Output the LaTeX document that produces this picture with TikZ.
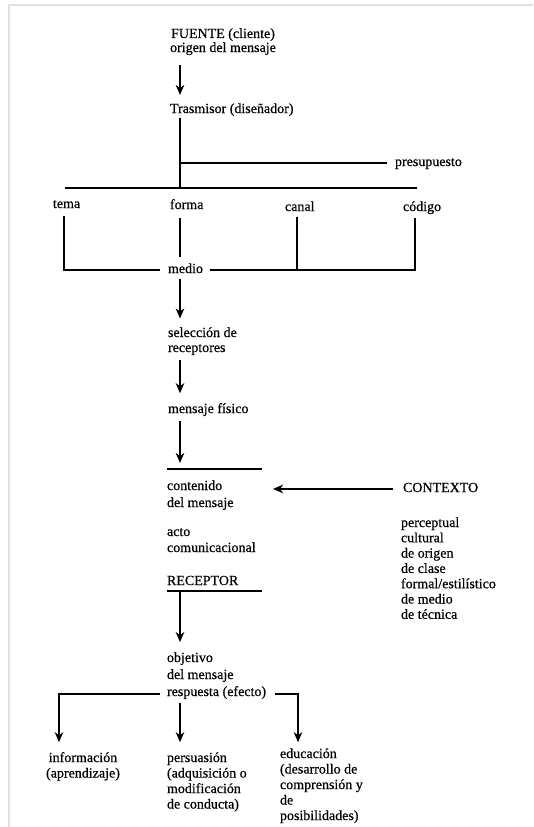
\documentclass[tikz,border=0pt]{standalone}
\usepackage{fontspec}
\setmainfont{Liberation Serif}[FakeBold=0.6]
\newfontfamily\heavy{Liberation Serif}[FakeBold=0.6]
\usetikzlibrary{arrows.meta}
\begin{document}
\begin{tikzpicture}[x=1pt,y=-1pt,
  txt/.style={inner sep=0pt, outer sep=0pt, anchor=north west, align=left, font=\heavy\fontsize{14}{15.5}\selectfont},
  ln/.style={line width=1.7pt},
  arr/.style={line width=1.7pt, -{Stealth[length=10pt,width=8.5pt,inset=3pt]}},
  frame/.style={line width=1.5pt, draw=black!12}]
\useasboundingbox (0,0) rectangle (533,827);
\draw[frame] (533,5) -- (9,5) -- (9,827);

% columns
\coordinate (col) at (180,0);
\coordinate (tl) at (64,0);
\coordinate (cx) at (297,0);
\coordinate (cr) at (415,0);
\coordinate (barL) at (65,188);
\coordinate (barR) at (417,188);
\coordinate (ctop) at (167,469);
\coordinate (ctopR) at (262,469);
\coordinate (rl) at (167,591);
\coordinate (rr) at (262,591);
\coordinate (ctxend) at (273,0);
\coordinate (bl) at (59,694);
\coordinate (br) at (298,694);

% texts
\node[txt, font=\heavy\fontsize{14}{14}\selectfont, align=center, anchor=north] (fuente) at (223,28.2) {\strut FUENTE (cliente)\\origen del mensaje\strut};
\node[txt] (tras) at (170,102.2) {\strut Trasmisor (diseñador)\strut};
\node[txt] (pres) at (395,155.2) {\strut presupuesto\strut};
\node[txt] (tema) at (53,197.2) {\strut tema\strut};
\node[txt] (forma) at (170,198.2) {\strut forma\strut};
\node[txt] (canal) at (285,200.2) {\strut canal\strut};
\node[txt] (codigo) at (403,200.2) {\strut código\strut};
\node[txt] (medio) at (168,262.2) {\strut medio\strut};
\node[txt, font=\heavy\fontsize{14}{15}\selectfont] (selec) at (168,326.5) {\strut selección de\\receptores\strut};
\node[txt] (fisico) at (168,402.2) {\strut mensaje físico\strut};
\node[txt, font=\heavy\fontsize{14}{17}\selectfont] (cont) at (167,478.1) {\strut contenido\\del mensaje\strut};
\node[txt, font=\heavy\fontsize{14}{16}\selectfont] (acto) at (167,524.8) {\strut acto\\comunicacional\strut};
\node[txt] (recep) at (167,574.2) {\strut RECEPTOR\strut};
\node[txt] (ctx) at (403,481.2) {\strut CONTEXTO\strut};
\node[txt, font=\heavy\fontsize{14}{15.3}\selectfont] (clist) at (401,516.3) {\strut perceptual\\cultural\\de origen\\de clase\\formal/estilístico\\de medio\\de técnica\strut};
\node[txt, font=\heavy\fontsize{14}{17}\selectfont] (obj) at (167,650.1) {\strut objetivo\\del mensaje\\respuesta (efecto)\strut};
\node[txt, align=center, anchor=north] (info) at (83,751.2) {\strut información\\(aprendizaje)\strut};
\node[txt] (pers) at (167,751.2) {\strut persuasión\\(adquisición o\\modificación\\de conducta)\strut};
\node[txt] (edu) at (280,747.2) {\strut educación\\(desarrollo de\\comprensión y\\de\\posibilidades)\strut};

% connectors
\draw[arr, shorten <=8.8pt, shorten >=7.2pt] (fuente.south -| col) -- (tras.north -| col);
\draw[ln] (tras.south -| col) -- (col |- barL);
\draw[ln, shorten >=8pt] (pres.west -| col) -- (pres.west);
\draw[ln] (barL) -- (barR);
\draw[ln, shorten <=3.5pt, shorten >=8pt] (tema.south -| tl) -- (tl |- medio.west) -- (medio.west);
\draw[ln, shorten <=4.3pt, shorten >=5pt] (forma.south -| col) -- (medio.north -| col);
\draw[ln, shorten <=7pt, shorten >=2.5pt] (medio.east) -- (cr |- medio.east) -- (cr |- codigo.south);
\draw[ln, shorten <=1pt] (canal.south -| cx) -- (cx |- medio.east);
\draw[arr, shorten <=1.5pt, shorten >=8pt] (medio.south -| col) -- (selec.north -| col);
\draw[arr, shorten <=3.5pt, shorten >=9pt] (selec.south -| col) -- (fisico.north -| col);
\draw[arr, shorten <=3.5pt, shorten >=6pt] (fisico.south -| col) -- (col |- ctop);
\draw[ln] (ctop) -- (ctopR);
\draw[arr, shorten <=10pt] (ctx.west) -- (ctxend |- ctx.west);
\draw[ln] (rl) -- (rr);
\draw[arr, shorten >=8pt] (col |- rl) -- (obj.north -| col);
\draw[arr, shorten <=7pt, shorten >=9pt] (obj.west |- bl) -- (bl) -- (bl |- info.north);
\draw[arr, shorten <=2pt, shorten >=9pt] (obj.south -| col) -- (pers.north -| col);
\draw[arr, shorten <=9pt, shorten >=5pt] (obj.east |- br) -- (br) -- (br |- edu.north);
\end{tikzpicture}
\end{document}
